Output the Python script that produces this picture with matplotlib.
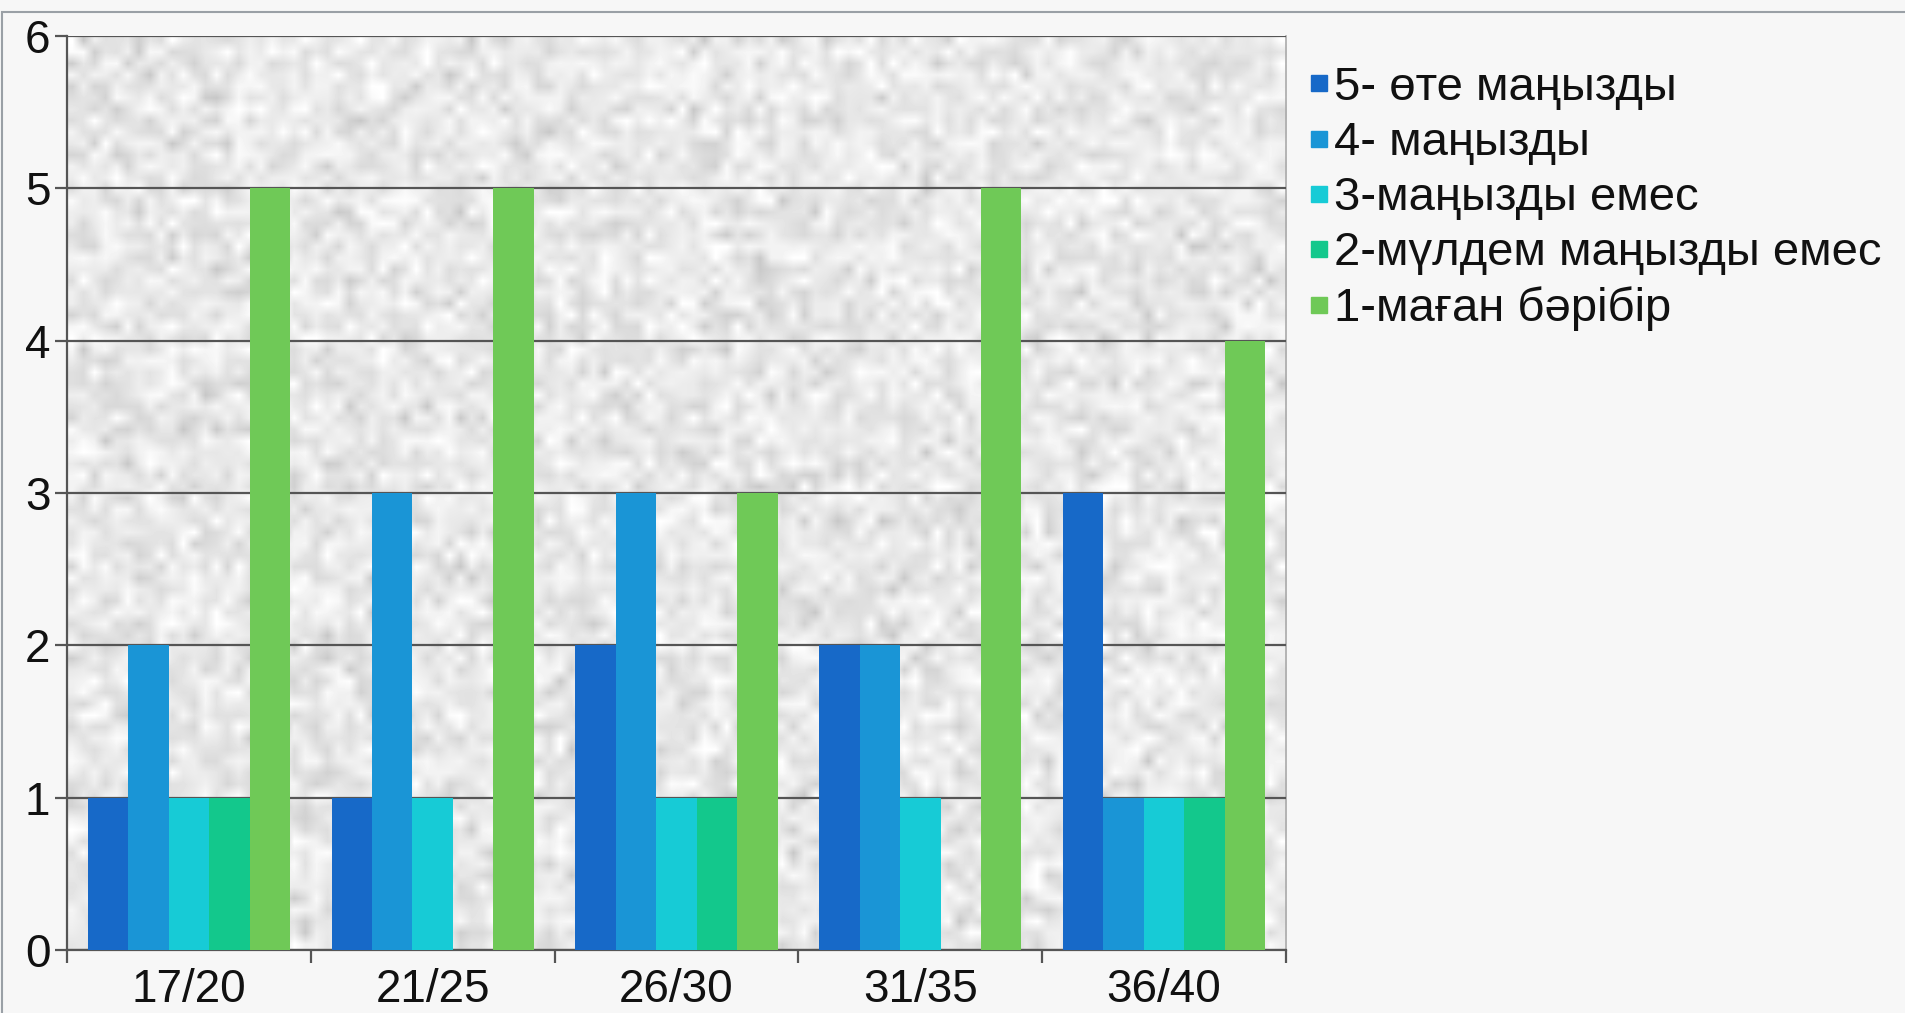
import numpy as np
import matplotlib
matplotlib.use("Agg")
import matplotlib.pyplot as plt
from matplotlib.lines import Line2D
from matplotlib.patches import Rectangle

plt.rcParams['font.family'] = ['Liberation Sans', 'DejaVu Sans']

categories = ["17/20", "21/25", "26/30", "31/35", "36/40"]
series_names = ["5- өте маңызды", "4- маңызды", "3-маңызды емес",
                "2-мүлдем маңызды емес", "1-маған бәрібір"]
v5 = [1, 1, 2, 2, 3]
v4 = [2, 3, 3, 2, 1]
v3 = [1, 1, 1, 1, 1]
v2 = [1, 0, 1, 0, 1]
v1 = [5, 5, 3, 5, 4]
series_values = [v5, v4, v3, v2, v1]
colors = ["#1769c8", "#1a95d6", "#17cbd6", "#13c88c", "#6fc957"]
y_ticks = [0, 1, 2, 3, 4, 5, 6]

W, H = 1905, 1013
fig = plt.figure(figsize=(W / 100, H / 100), dpi=100)
fig.patch.set_facecolor("#f7f7f7")
# slide frame
fig.add_artist(Rectangle((2 / W, -0.1), 2.0, 1 - 12 / H + 0.1, transform=fig.transFigure,
                         fill=False, edgecolor="#9aa0a6", linewidth=1.5))

ax = fig.add_axes([67 / W, 1 - 950 / H, (1286 - 67) / W, (950 - 36) / H])

# textured granite-like background
rng = np.random.default_rng(3)
tex = rng.normal(0.0, 1.0, (80, 110))
tex = 0.91 + 0.05 * tex
tex = np.clip(tex, 0.78, 1.0)
ax.imshow(tex, cmap="gray", vmin=0, vmax=1, extent=[0, 1, 0, 1],
          transform=ax.transAxes, aspect="auto", interpolation="bilinear", zorder=0)

n = len(series_values)
x = np.arange(len(categories))
bw = 0.166
for i, (vals, c, name) in enumerate(zip(series_values, colors, series_names)):
    ax.bar(x + (i - (n - 1) / 2) * bw, vals, width=bw, color=c, label=name,
           zorder=3, linewidth=0)

ax.set_xlim(-0.5, len(categories) - 0.5)
ax.set_ylim(0, 6)
ax.set_yticks(y_ticks)
ax.set_yticklabels([str(t) for t in y_ticks])
ax.yaxis.grid(True, color="#555555", linewidth=1.6, zorder=2)
ax.set_axisbelow(False)
ax.set_xticks(x)
ax.set_xticklabels(categories)
ax.set_xticks(np.arange(len(categories) + 1) - 0.5, minor=True)
ax.tick_params(axis="x", which="major", length=0, labelsize=33, pad=13, colors="#111111")
ax.tick_params(axis="x", which="minor", length=9, width=1.6, color="#555555", direction="out")
ax.tick_params(axis="y", length=9, width=1.6, color="#555555", labelsize=33, pad=3,
               labelcolor="#111111")
for s in ["left", "bottom"]:
    ax.spines[s].set_color("#555555")
    ax.spines[s].set_linewidth(1.6)
ax.spines["top"].set_visible(False)
ax.spines["right"].set_color("#aaaaaa")
ax.spines["right"].set_linewidth(1.2)

handles = [Line2D([0], [0], marker="s", linestyle="none", markersize=11,
                  markerfacecolor=c, markeredgecolor=c) for c in colors]
fig.legend(handles, series_names, loc="upper left",
           bbox_to_anchor=(1308 / W, 1 - 66 / H), frameon=False, fontsize=34,
           handlelength=0.45, handletextpad=0.1, labelspacing=0.235,
           borderaxespad=0, borderpad=0, labelcolor="#111111")

fig.savefig("out.png", dpi=100, facecolor=fig.get_facecolor())
